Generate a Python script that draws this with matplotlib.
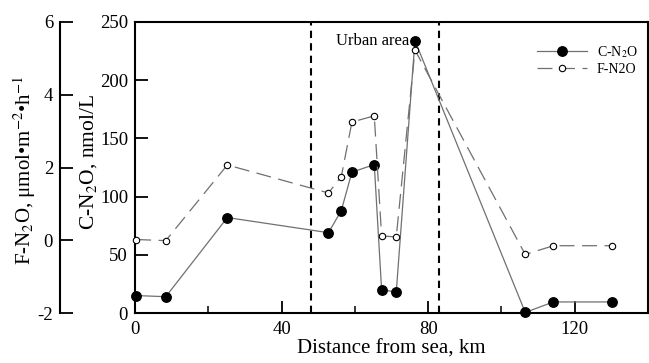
import matplotlib
matplotlib.use('Agg')
import matplotlib.pyplot as plt
from matplotlib.ticker import MultipleLocator

plt.rcParams['font.family'] = ['Liberation Serif', 'DejaVu Serif']
plt.rcParams['mathtext.fontset'] = 'stix'
plt.rcParams['axes.unicode_minus'] = False

# distance from the sea (km) of each sampling site
distance = [0.3, 8.4, 25.2, 52.8, 56.3, 59.2, 65.3, 67.3, 71.3, 76.4, 106.5, 114.2, 130.2]
# dissolved N2O concentration, nmol/L
c_n2o = [15, 14, 82, 69, 88, 121, 127.5, 20, 18, 234, 0.5, 9.5, 9.5]
# N2O flux, umol m-2 h-1
f_n2o = [0.02, -0.01, 2.07, 1.30, 1.75, 3.25, 3.42, 0.12, 0.09, 5.23, -0.39, -0.15, -0.15]
# urban area boundaries, km
urban_edges = [48, 82.9]

fig = plt.figure(figsize=(6.49, 3.63), dpi=100)
ax = fig.add_axes([135 / 649, 50 / 363, 513 / 649, 291 / 363])
ax2 = ax.twinx()

for x in urban_edges:
    ax.axvline(x, color='black', lw=1.5, ls=(0, (3.5, 2.5)), zorder=1)

c_line, = ax.plot(distance, c_n2o, color='#707070', lw=0.9, marker='o', ms=6.8,
                  mfc='black', mec='black', clip_on=False, zorder=3)
f_line, = ax2.plot(distance, f_n2o, color='#707070', lw=0.9, dashes=(12, 6),
                   marker='o', ms=4.6, mfc='white', mec='black', mew=0.8,
                   clip_on=False, zorder=3)

ax.set_xlim(0, 140)
ax.set_ylim(0, 250)
ax2.set_ylim(-2, 6)

ax.xaxis.set_major_locator(MultipleLocator(40))
ax.xaxis.set_minor_locator(MultipleLocator(20))
ax.yaxis.set_major_locator(MultipleLocator(50))
ax2.yaxis.set_major_locator(MultipleLocator(2))

for s in ax.spines.values():
    s.set_linewidth(1.5)
ax.tick_params(which='major', direction='in', length=9, width=1.3, labelsize=13.5, pad=5)
ax.tick_params(which='minor', direction='in', length=5, width=1.1)
ax.tick_params(axis='x', which='major', pad=6)
ax.tick_params(axis='y', which='both', right=False)

ax2.yaxis.tick_left()
ax2.yaxis.set_label_position('left')
for name in ['right', 'top', 'bottom']:
    ax2.spines[name].set_visible(False)
ax2.spines['left'].set_position(('outward', 54))
ax2.spines['left'].set_linewidth(1.5)
ax2.tick_params(direction='in', length=9, width=1.3, labelsize=13.5, pad=5)

ax.set_xlabel('Distance from sea, km', fontsize=15, labelpad=1)
ax.set_ylabel('C-N$_2$O, nmol/L', fontsize=15.5)
ax.yaxis.set_label_coords(-0.07, 0.52)
ax2.set_ylabel('F-N$_2$O, μmol•m$^{-2}$•h$^{-1}$', fontsize=15)
ax2.yaxis.set_label_coords(-0.19, 0.49)

ax.text(74.9, 234, 'Urban area', ha='right', va='center', fontsize=12)

ax2.legend([c_line, f_line], ['C-N$_2$O', 'F-N2O'], loc='upper left',
           bbox_to_anchor=((537 - 135) / 513, (313 - 44) / 291), frameon=False,
           fontsize=10, handlelength=3.6, handletextpad=0.7, labelspacing=0.25,
           borderpad=0, borderaxespad=0)

fig.savefig('out.png', dpi=100)
